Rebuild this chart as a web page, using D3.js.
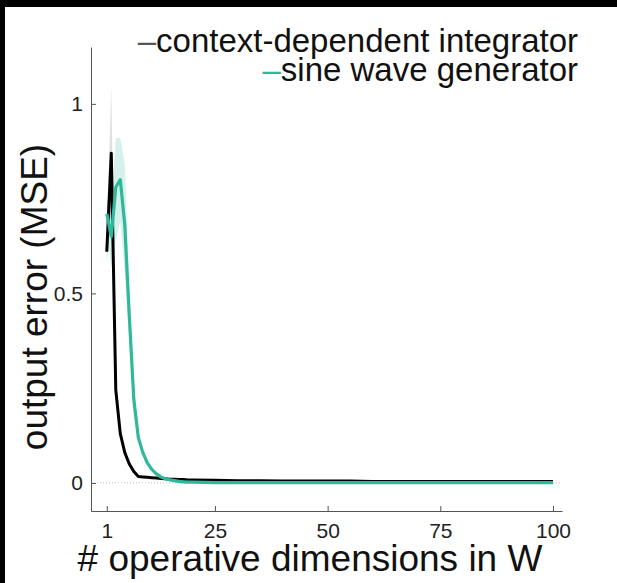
<!DOCTYPE html>
<html>
<head>
<meta charset="utf-8">
<script src="https://cdn.jsdelivr.net/npm/d3@7"></script>
<style>
  body { margin: 0; background: #fff; }
  svg { display: block; font-family: "Liberation Sans", Arial, sans-serif; }
</style>
</head>
<body>
<div id="chart"></div>
<script>
// number of operative dimensions sampled
const dims = [1,2,3,4,5,6,7,8,9,10,11,12,13,14,15,16,17,18,19,20,
  25,30,35,40,45,50,55,60,65,70,75,80,85,90,95,100];

// mean output error, context-dependent integrator
const cdiMean = [0.61,0.87,0.245,0.13,0.08,0.05,0.03,0.017,0.016,0.015,0.014,0.013,0.012,0.011,0.010,0.010,0.009,0.009,0.008,0.008,
  0.007,0.006,0.006,0.005,0.005,0.005,0.005,0.004,0.004,0.004,0.004,0.004,0.004,0.004,0.004,0.004];

// mean output error, sine wave generator
const swgMean = [0.71,0.65,0.78,0.80,0.68,0.44,0.22,0.12,0.08,0.053,0.036,0.024,0.016,0.011,0.008,0.006,0.004,0.003,0.002,0.002,
  0.001,0.001,0.001,0.001,0.001,0.001,0.001,0.001,0.001,0.001,0.001,0.001,0.001,0.001,0.001,0.001];

// spread bands (only visible for the first few dims)
const bandDims = [1,2,3,4,5,6,7,8];
const cdiLo = [0.58,0.70,0.22,0.12,0.075,0.046,0.028,0.016];
const cdiHi = [0.64,1.05,0.27,0.14,0.085,0.054,0.032,0.018];
const swgLo = [0.66,0.57,0.64,0.69,0.55,0.38,0.18,0.10];
const swgHi = [0.75,0.73,0.91,0.91,0.84,0.50,0.26,0.14];

const xTicks = [1,25,50,75,100];
const yTicks = [0,0.5,1];
const legendLabels = ["context-dependent integrator","sine wave generator"];

const width = 617, height = 583;
const margin = { left: 91, right: 55, top: 47, bottom: 72 };
const green = "#2fb99a";

const svg = d3.select("#chart").append("svg")
  .attr("width", width)
  .attr("height", height);

// black frame strips from the screenshot
svg.append("rect").attr("x", 0).attr("y", 0).attr("width", width).attr("height", 7).attr("fill", "#000");
svg.append("rect").attr("x", 0).attr("y", 0).attr("width", 5).attr("height", height).attr("fill", "#000");

const x = d3.scaleLinear().domain([-2.5, 102]).range([margin.left, width - margin.right]);
const y = d3.scaleLinear().domain([-0.074, 1.15]).range([height - margin.bottom, margin.top]);

// dotted zero line
svg.append("line")
  .attr("x1", x.range()[0]).attr("x2", x.range()[1])
  .attr("y1", y(0)).attr("y2", y(0))
  .attr("stroke", "#bbb").attr("stroke-width", 1)
  .attr("stroke-dasharray", "1,2");

// bands
const area = (lo, hi) => d3.area()
  .x((d, i) => x(bandDims[i]))
  .y0((d, i) => y(lo[i]))
  .y1((d, i) => y(hi[i]));

svg.append("path")
  .datum(bandDims)
  .attr("d", area(swgLo, swgHi))
  .attr("fill", green).attr("opacity", 0.2);

svg.append("path")
  .datum(bandDims)
  .attr("d", area(cdiLo, cdiHi))
  .attr("fill", "#000").attr("opacity", 0.12);

// lines
const line = (vals) => d3.line()
  .x((d, i) => x(dims[i]))
  .y((d, i) => y(vals[i]));

svg.append("path")
  .datum(dims)
  .attr("d", line(cdiMean))
  .attr("fill", "none").attr("stroke", "#000")
  .attr("stroke-width", 3).attr("stroke-linejoin", "round");

svg.append("path")
  .datum(dims)
  .attr("d", line(swgMean))
  .attr("fill", "none").attr("stroke", green)
  .attr("stroke-width", 3.2).attr("stroke-linejoin", "round");

// axes (ticks point inward)
const xAxis = svg.append("g")
  .attr("transform", `translate(0,${height - margin.bottom})`)
  .call(d3.axisBottom(x).tickValues(xTicks).tickSizeInner(-5).tickSizeOuter(0).tickPadding(12));
const yAxis = svg.append("g")
  .attr("transform", `translate(${margin.left},0)`)
  .call(d3.axisLeft(y).tickValues(yTicks).tickSizeInner(-5).tickSizeOuter(0).tickPadding(8)
    .tickFormat(d3.format("~g")));

[xAxis, yAxis].forEach(g => {
  g.select(".domain").attr("stroke", "#555");
  g.selectAll(".tick line").attr("stroke", "#555");
  g.selectAll(".tick text").attr("font-size", 21).attr("fill", "#222")
    .attr("font-family", "Liberation Sans, Arial, sans-serif");
});

// axis titles
svg.append("text")
  .attr("x", 310).attr("y", 571)
  .attr("text-anchor", "middle")
  .attr("font-size", 37).attr("fill", "#111")
  .text("# operative dimensions in W");

svg.append("text")
  .attr("transform", "translate(47,297) rotate(-90)")
  .attr("text-anchor", "middle")
  .attr("font-size", 37).attr("fill", "#111")
  .text("output error (MSE)");

// legend
const legend = svg.append("g").attr("font-size", 33);
legendLabels.forEach((lab, i) => {
  const t = legend.append("text")
    .attr("x", 578).attr("y", 52 + i * 29)
    .attr("text-anchor", "end")
    .attr("fill", "#111");
  t.append("tspan").attr("fill", i === 0 ? "#555" : green).text("\u2013");
  t.append("tspan").text(lab);
});
</script>
</body>
</html>
